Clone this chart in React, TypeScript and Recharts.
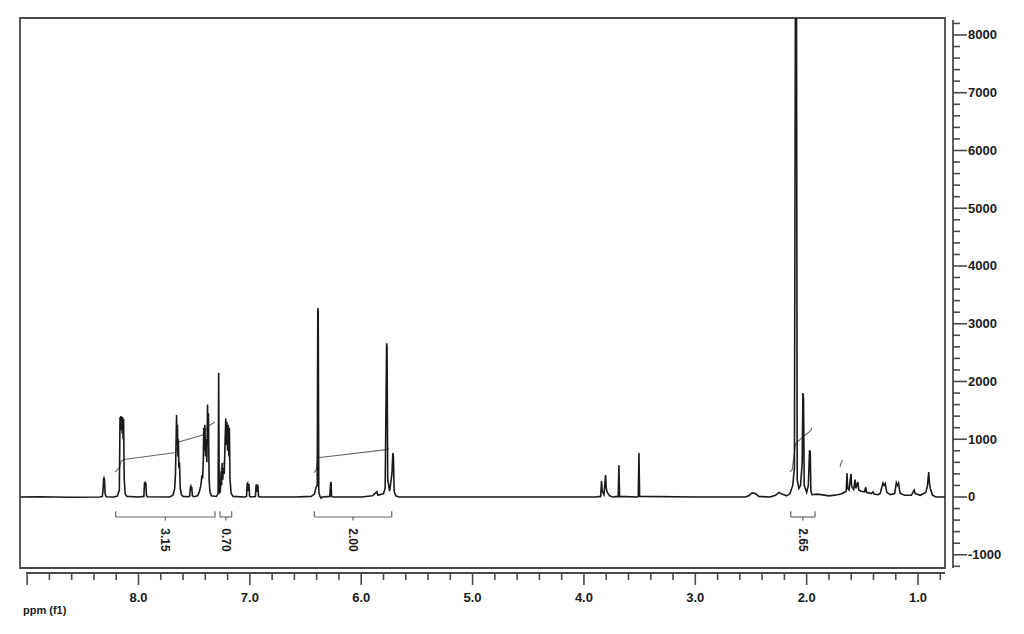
import React from 'react';
import { LineChart, Line, XAxis, YAxis, ReferenceArea, ReferenceLine, ReferenceDot } from 'recharts';

// 1H NMR spectrum, [ppm, intensity], left (high ppm) to right
const spectrum: [number, number][] = [
  [9.06, 0], [8.9, 5], [8.6, -5], [8.35, 0],
  [8.325, 10], [8.318, 120], [8.314, 310], [8.31, 330], [8.305, 300], [8.3, 60], [8.29, 5],
  [8.22, 0], [8.19, 15],
  [8.172, 120], [8.166, 1380], [8.162, 1150], [8.158, 1400], [8.154, 1200], [8.15, 1390], [8.146, 1100],
  [8.142, 1380], [8.138, 1000], [8.134, 1350], [8.128, 300], [8.12, 60], [8.105, 10],
  [8.0, 0],
  [7.952, 10], [7.946, 240], [7.942, 250], [7.938, 210], [7.934, 250], [7.929, 30], [7.92, 5],
  [7.72, 0],
  [7.69, 30], [7.675, 150], [7.668, 400], [7.662, 1000], [7.658, 1420], [7.654, 900], [7.65, 1250],
  [7.646, 700], [7.642, 1000], [7.637, 500], [7.632, 600], [7.625, 150], [7.615, 40], [7.6, 10],
  [7.55, 5],
  [7.54, 20], [7.534, 170], [7.53, 190], [7.526, 150], [7.522, 170], [7.516, 20], [7.505, 5],
  [7.47, 20],
  [7.455, 80], [7.44, 200], [7.43, 380], [7.424, 320], [7.418, 650], [7.414, 1200], [7.41, 800],
  [7.404, 1250], [7.398, 700], [7.392, 1000], [7.386, 600], [7.38, 1600], [7.376, 900], [7.372, 1450],
  [7.366, 300], [7.358, 80], [7.345, 20],
  [7.3, 10], [7.285, 60], [7.28, 2150], [7.275, 60],
  [7.265, 100], [7.258, 450], [7.254, 200], [7.248, 590], [7.243, 300], [7.238, 500],
  [7.23, 400], [7.222, 1000], [7.216, 1360], [7.212, 900], [7.206, 1300], [7.2, 800], [7.194, 1250],
  [7.188, 700], [7.184, 1200], [7.178, 300], [7.168, 60], [7.15, 10],
  [7.05, 0],
  [7.03, 10], [7.024, 230], [7.02, 240], [7.014, 100], [7.008, 230], [7.002, 10], [6.99, 0],
  [6.95, 10], [6.944, 200], [6.94, 220], [6.934, 90], [6.928, 210], [6.922, 10], [6.91, 0],
  [6.6, 0], [6.45, 10], [6.42, 50],
  [6.405, 170], [6.395, 200], [6.39, 3270], [6.386, 3200], [6.381, 100], [6.372, 20], [6.36, -20], [6.35, 0],
  [6.282, 10], [6.275, 240], [6.271, 260], [6.266, 10], [6.25, 0],
  [6.0, 0], [5.9, 20], [5.86, 90], [5.85, 30], [5.8, 60],
  [5.785, 150], [5.772, 2660], [5.768, 2600], [5.762, 300], [5.745, 100], [5.724, 400], [5.716, 760],
  [5.711, 700], [5.704, 100], [5.69, 20], [5.66, 0],
  [4.5, 0], [3.9, 0],
  [3.85, 10], [3.842, 280], [3.836, 100], [3.82, 40], [3.806, 380], [3.8, 150], [3.79, 80], [3.77, 20], [3.74, 0],
  [3.692, 10], [3.686, 550], [3.68, 10],
  [3.52, 0], [3.512, 10], [3.506, 760], [3.5, 10],
  [3.0, 0], [2.55, 0], [2.52, 20], [2.49, 70], [2.46, 60], [2.43, 10], [2.33, 0], [2.28, 30], [2.25, 80],
  [2.22, 50], [2.18, 20],
  [2.15, 60], [2.125, 200], [2.11, 500], [2.1, 9500], [2.092, 9500], [2.085, 300], [2.07, 150], [2.055, 200],
  [2.04, 600], [2.034, 1800], [2.028, 1700], [2.022, 200], [2.0, 80], [1.985, 200], [1.974, 810],
  [1.968, 780], [1.962, 100], [1.95, 40], [1.9, 50], [1.8, 20], [1.72, 40], [1.68, 60],
  [1.645, 100], [1.638, 410], [1.632, 150], [1.62, 120], [1.602, 400], [1.596, 180], [1.578, 130],
  [1.565, 300], [1.558, 150], [1.54, 260], [1.532, 120], [1.51, 100], [1.48, 90], [1.47, 170],
  [1.462, 80], [1.42, 60], [1.405, 90], [1.395, 50], [1.36, 40], [1.34, 60], [1.315, 240], [1.305, 200],
  [1.295, 230], [1.28, 80], [1.25, 40], [1.21, 60], [1.195, 250], [1.185, 200], [1.175, 240], [1.16, 60],
  [1.12, 30], [1.06, 30], [1.035, 120], [1.025, 60], [0.98, 30], [0.93, 80], [0.915, 200], [0.904, 430],
  [0.898, 250], [0.89, 150], [0.87, 30], [0.84, 0], [0.758, 0],
];

// integral curves
const integralA: [number, number][] = [
  [8.21, 430], [8.19, 470], [8.17, 520], [8.155, 620], [8.13, 650], [7.665, 770], [7.645, 950],
  [7.41, 1080], [7.38, 1220], [7.313, 1300],
];
const integralB: [number, number][] = [[7.262, 470], [7.25, 520], [7.235, 600]];
const integralC: [number, number][] = [[6.425, 420], [6.405, 460], [6.39, 680], [5.77, 820], [5.75, 840]];
const integralD: [number, number][] = [
  [2.15, 440], [2.13, 470], [2.1, 920], [2.03, 1050], [1.98, 1120], [1.96, 1160], [1.955, 1200],
];
const integralE: [number, number][] = [[1.7, 520], [1.69, 600], [1.675, 640]];

const integrations = [
  { from: 8.205, to: 7.313, label: '3.15' },
  { from: 7.268, to: 7.163, label: '0.70' },
  { from: 6.421, to: 5.726, label: '2.00' },
  { from: 2.143, to: 1.925, label: '2.65' },
];

const xTicks = [
  9.0, 8.8, 8.6, 8.4, 8.2, 8.0, 7.8, 7.6, 7.4, 7.2, 7.0, 6.8, 6.6, 6.4, 6.2, 6.0, 5.8, 5.6, 5.4, 5.2, 5.0,
  4.8, 4.6, 4.4, 4.2, 4.0, 3.8, 3.6, 3.4, 3.2, 3.0, 2.8, 2.6, 2.4, 2.2, 2.0, 1.8, 1.6, 1.4, 1.2, 1.0, 0.8,
];
const xLabels = ['8.0', '7.0', '6.0', '5.0', '4.0', '3.0', '2.0', '1.0'];
const yTicks = [
  -1200, -1000, -800, -600, -400, -200, 0, 200, 400, 600, 800, 1000, 1200, 1400, 1600, 1800, 2000,
  2200, 2400, 2600, 2800, 3000, 3200, 3400, 3600, 3800, 4000, 4200, 4400, 4600, 4800, 5000, 5200,
  5400, 5600, 5800, 6000, 6200, 6400, 6600, 6800, 7000, 7200, 7400, 7600, 7800, 8000, 8200,
];

const X_MIN = 0.686;
const X_MAX = 9.064;
const Y_MIN = -1316;
const Y_MAX = 8294;
const FRAME_RIGHT = 0.758;
const FRAME_BOTTOM = -1229;
const BRACKET_Y = -346;
const LABEL_Y = -745;

const FONT = '"Liberation Sans", Arial, sans-serif';
const AXIS = '#4a4a4a';

const toPts = (arr: [number, number][]) => arr.map(([ppm, v]) => ({ ppm, v }));

const XTick = ({ x, y, payload }: any) => {
  const v = payload.value;
  const major = Math.abs(v - Math.round(v)) < 1e-6;
  const txt = v.toFixed(1);
  return (
    <g>
      <line x1={x} y1={y} x2={x} y2={y + (major ? 12 : 7)} stroke={AXIS} strokeWidth={1.6} />
      {major && xLabels.includes(txt) && (
        <text x={x} y={y + 29} textAnchor="middle" fontFamily={FONT} fontWeight={700} fontSize={13} fill="#1a1a1a">
          {txt}
        </text>
      )}
    </g>
  );
};

const YTick = ({ x, y, payload }: any) => {
  const v = payload.value;
  const major = v % 1000 === 0;
  return (
    <g>
      <line x1={x} y1={y} x2={x + (major ? 14 : 7)} y2={y} stroke={AXIS} strokeWidth={1.6} />
      {major && (
        <text x={x + 15} y={y} dominantBaseline="central" textAnchor="start" fontFamily={FONT} fontWeight={700} fontSize={13} fill="#1a1a1a">
          {v}
        </text>
      )}
    </g>
  );
};

export default function App() {
  return (
    <div style={{ position: 'absolute', left: 0, top: 0, width: 1024, height: 634, background: '#fff' }}>
      <LineChart width={1024} height={634} margin={{ top: 18, left: 20, right: 0, bottom: 0 }}>
        <XAxis
          dataKey="ppm"
          type="number"
          domain={[X_MIN, X_MAX]}
          allowDataOverflow
          reversed
          ticks={xTicks}
          interval={0}
          height={61}
          axisLine={false}
          tickLine={false}
          tickSize={0}
          tickMargin={0}
          tick={<XTick />}
        />
        <YAxis
          orientation="right"
          type="number"
          domain={[Y_MIN, Y_MAX]}
          allowDataOverflow
          ticks={yTicks}
          interval={0}
          width={71}
          axisLine={false}
          tickLine={false}
          tickSize={0}
          tickMargin={0}
          tick={<YTick />}
        />
        <ReferenceArea
          x1={X_MAX}
          x2={FRAME_RIGHT}
          y1={FRAME_BOTTOM}
          y2={Y_MAX}
          fill="none"
          stroke={AXIS}
          strokeWidth={1.8}
          ifOverflow="visible"
        />
        <ReferenceLine
          segment={[{ x: 9.01, y: Y_MIN }, { x: FRAME_RIGHT, y: Y_MIN }]}
          stroke={AXIS}
          strokeWidth={1.8}
          ifOverflow="visible"
        />
        <ReferenceLine
          segment={[{ x: X_MIN, y: FRAME_BOTTOM }, { x: X_MIN, y: 8260 }]}
          stroke={AXIS}
          strokeWidth={1.8}
          ifOverflow="visible"
        />
        {integrations.map((r) => {
          const mid = (r.from + r.to) / 2;
          return (
            <React.Fragment key={r.label}>
              <ReferenceLine segment={[{ x: r.from, y: BRACKET_Y }, { x: r.to, y: BRACKET_Y }]} stroke="#666" strokeWidth={1.2} ifOverflow="visible" />
              <ReferenceLine segment={[{ x: r.from, y: BRACKET_Y }, { x: r.from, y: BRACKET_Y + 100 }]} stroke="#666" strokeWidth={1.2} ifOverflow="visible" />
              <ReferenceLine segment={[{ x: r.to, y: BRACKET_Y }, { x: r.to, y: BRACKET_Y + 100 }]} stroke="#666" strokeWidth={1.2} ifOverflow="visible" />
              <ReferenceLine segment={[{ x: mid, y: BRACKET_Y }, { x: mid, y: BRACKET_Y - 60 }]} stroke="#666" strokeWidth={1.2} ifOverflow="visible" />
              <ReferenceDot
                x={mid}
                y={LABEL_Y}
                r={0}
                ifOverflow="visible"
                shape={(p: any) => (
                  <text
                    x={p.cx}
                    y={p.cy}
                    transform={`rotate(90 ${p.cx} ${p.cy})`}
                    textAnchor="middle"
                    dominantBaseline="central"
                    fontFamily={FONT}
                    fontWeight={700}
                    fontSize={12}
                    fill="#1a1a1a"
                  >
                    {r.label}
                  </text>
                )}
              />
            </React.Fragment>
          );
        })}
        {[integralA, integralB, integralC, integralD, integralE].map((d, i) => (
          <Line
            key={`int-${i}`}
            data={toPts(d)}
            dataKey="v"
            type="linear"
            stroke="#6a6a6a"
            strokeWidth={1.1}
            dot={false}
            isAnimationActive={false}
          />
        ))}
        <Line
          data={toPts(spectrum)}
          dataKey="v"
          type="linear"
          stroke="#1a1a1a"
          strokeWidth={1.6}
          dot={false}
          isAnimationActive={false}
        />
      </LineChart>
      <div
        style={{
          position: 'absolute',
          left: 23,
          top: 604,
          fontFamily: FONT,
          fontWeight: 700,
          fontSize: 11,
          color: '#1a1a1a',
        }}
      >
        ppm (f1)
      </div>
    </div>
  );
}
